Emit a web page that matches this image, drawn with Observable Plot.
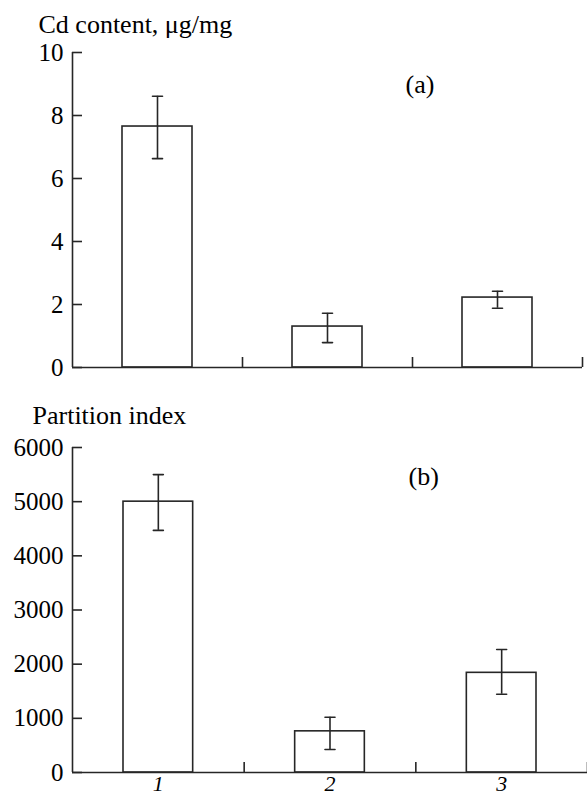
<!DOCTYPE html>
<html>
<head>
<meta charset="utf-8">
<script src="https://cdn.jsdelivr.net/npm/d3@7"></script>
<script src="https://cdn.jsdelivr.net/npm/@observablehq/plot@0.6"></script>
<style>
  html, body { margin: 0; padding: 0; background: white; }
  #chart svg { display: block; }
</style>
</head>
<body>
<div id="chart"></div>
<script>
// Data
const categories = ["1", "2", "3"];
// (a) Cd content, µg/mg
const cdValue = [7.65, 1.30, 2.22];
const cdLow   = [6.63, 0.79, 1.88];
const cdHigh  = [8.61, 1.72, 2.42];
const cdTicks = [0, 2, 4, 6, 8, 10];
// (b) Partition index
const piValue = [5000, 760, 1840];
const piLow   = [4470, 425, 1445];
const piHigh  = [5500, 1020, 2270];
const piTicks = [0, 1000, 2000, 3000, 4000, 5000, 6000];

const INK = "#262626";
const capShape = {
  draw(context, l) { context.moveTo(-l / 2, 0); context.lineTo(l / 2, 0); }
};

function panel({values, lows, highs, ticks, yMax, title, tag, height, marginTop, marginBottom, marginRight, inset, titleDx, titleDy, tagDx, tagDy, showLabels}) {
  const rows = categories.map((c, i) => ({cat: c, pos: i, mid: i + 0.5, value: values[i], lo: lows[i], hi: highs[i]}));
  const marks = [
    Plot.rectY(rows, {x: "pos", interval: 1, y: "value", insetLeft: inset, insetRight: inset, fill: "white", stroke: INK, strokeWidth: 1.6}),
    Plot.ruleX(rows, {x: "mid", y1: "lo", y2: "hi", stroke: INK, strokeWidth: 1.6}),
    Plot.vector(rows, {x: "mid", y: "hi", length: 10, shape: capShape, anchor: "start", stroke: INK, strokeWidth: 1.6}),
    Plot.vector(rows, {x: "mid", y: "lo", length: 10, shape: capShape, anchor: "start", stroke: INK, strokeWidth: 1.6}),
    Plot.ruleY([0], {stroke: INK, strokeWidth: 1.6}),
    Plot.ruleX([0], {stroke: INK, strokeWidth: 1.6}),
    Plot.axisY({ticks, tickSize: -10, tickPadding: 19, tickFormat: d => String(d), stroke: INK, strokeWidth: 1.6, fontSize: 25, fill: "black"}),
    Plot.axisX({ticks: [1, 2, 3], tickSize: -10, tickFormat: () => "", stroke: INK, strokeWidth: 1.6}),
    Plot.text([title], {frameAnchor: "top-left", textAnchor: "start", lineAnchor: "top", dx: titleDx, dy: titleDy, fontSize: 26, fill: "black"}),
    Plot.text([tag], {frameAnchor: "top-left", textAnchor: "start", lineAnchor: "top", dx: tagDx, dy: tagDy, fontSize: 26, fill: "black"})
  ];
  if (showLabels) {
    marks.push(Plot.text(rows, {x: "mid", text: "cat", frameAnchor: "bottom", lineAnchor: "top", dy: 3, fontSize: 22, fontStyle: "italic", fill: "black"}));
  }
  return Plot.plot({
    width: 587,
    height,
    marginTop,
    marginBottom,
    marginLeft: 72,
    marginRight,
    style: {fontFamily: "'Liberation Serif', 'Times New Roman', serif", background: "white", overflow: "visible"},
    x: {domain: [0, 3], axis: null},
    y: {domain: [0, yMax], axis: null},
    marks
  });
}

const panelA = panel({
  values: cdValue, lows: cdLow, highs: cdHigh, ticks: cdTicks, yMax: 10,
  title: "Cd content, μg/mg", tag: "(a)",
  height: 398, marginTop: 52, marginBottom: 31, marginRight: 5, inset: 50,
  titleDx: -34, titleDy: -37.5, tagDx: 333, tagDy: 22.5, showLabels: false
});
const panelB = panel({
  values: piValue, lows: piLow, highs: piHigh, ticks: piTicks, yMax: 6000,
  title: "Partition index", tag: "(b)",
  height: 400, marginTop: 49, marginBottom: 26, marginRight: 0, inset: 51,
  titleDx: -40, titleDy: -41.5, tagDx: 336, tagDy: 19.5, showLabels: true
});
document.getElementById("chart").append(panelA, panelB);
</script>
</body>
</html>
